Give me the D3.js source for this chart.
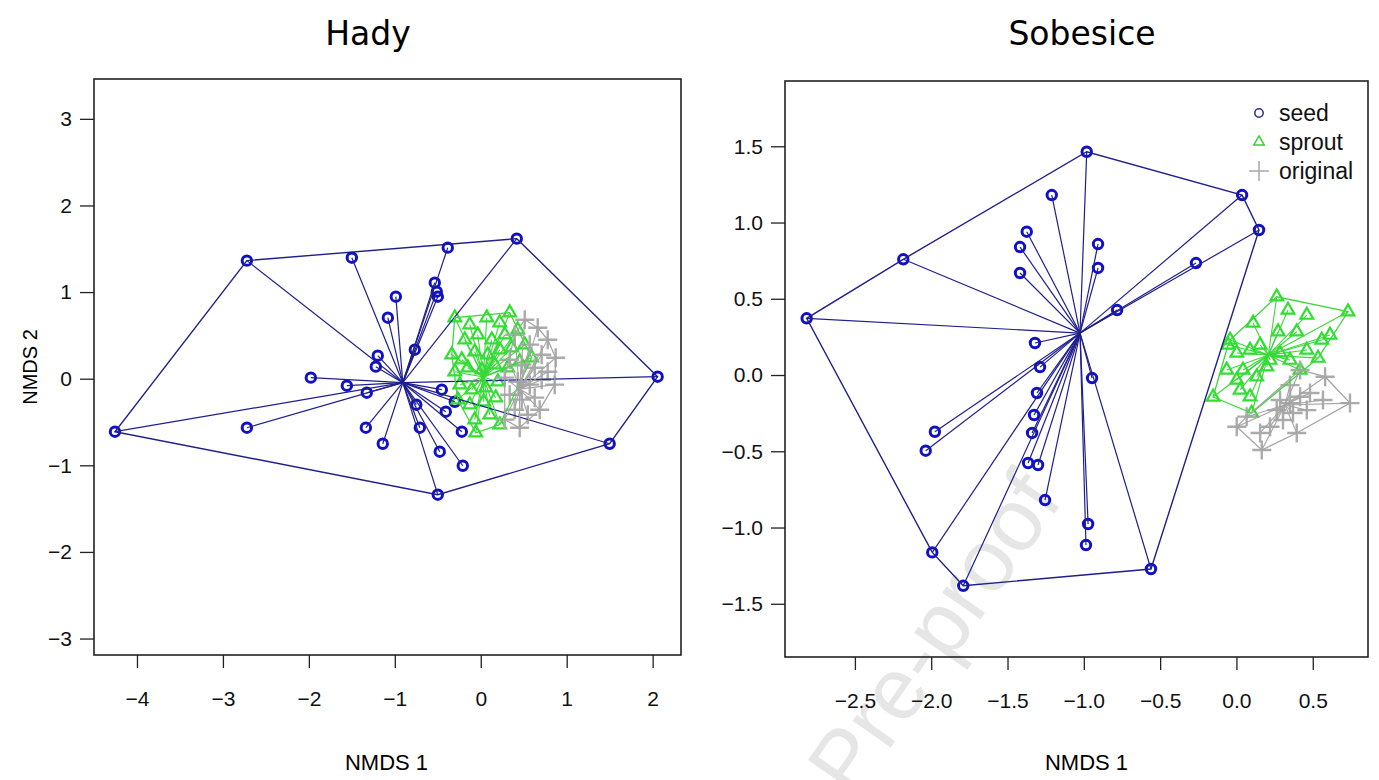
<!DOCTYPE html>
<html>
<head>
<meta charset="utf-8">
<script src="https://cdn.jsdelivr.net/npm/d3@7"></script>
<style>
  body { margin: 0; background: #fff; }
</style>
</head>
<body>
<div id="chart"></div>
<script>
// ---------- data (NMDS scores) ----------
const hadySeed = [
  [-4.256,-0.612],[-2.721,1.363],[0.419,1.617],[2.058,0.023],[1.5,-0.751],[-0.5,-1.339],
  [-1.5,1.397],[-0.384,1.513],[-0.988,0.947],[-1.081,0.704],[-0.535,1.109],[-0.512,1.005],
  [-0.5,0.947],[-0.767,0.335],[-1.198,0.266],[-1.221,0.139],[-1.977,0.012],[-1.558,-0.081],
  [-1.326,-0.162],[-2.721,-0.566],[-1.337,-0.566],[-1.14,-0.751],[-0.709,-0.566],[-0.477,-0.843],
  [-0.407,-0.381],[-0.302,-0.266],[-0.209,-1.005],[-0.453,-0.127],[-0.22,-0.612],[-0.75,-0.3]
];
const hadySprout = [
  [-0.302,0.704],[-0.128,0.624],[0.070,0.704],[0.221,0.647],[0.337,0.762],[-0.186,0.450],
  [-0.035,0.508],[0.128,0.450],[0.279,0.508],[0.430,0.566],[-0.337,0.277],[-0.221,0.219],
  [-0.070,0.312],[0.081,0.277],[0.221,0.335],[0.360,0.358],[0.512,0.393],[-0.302,0.081],
  [-0.151,0.127],[0.012,0.104],[0.163,0.162],[0.314,0.127],[0.453,0.196],[0.593,0.242],
  [-0.244,-0.069],[-0.105,-0.127],[0.058,-0.104],[0.198,-0.035],[-0.267,-0.242],[-0.128,-0.300],
  [0.035,-0.266],[0.174,-0.219],[-0.070,-0.473],[0.105,-0.416],[-0.058,-0.624],[0.221,-0.531]
];
const hadyOriginal = [
  [0.512,0.681],[0.663,0.589],[0.779,0.450],[0.872,0.242],[0.395,0.508],[0.570,0.393],
  [0.709,0.277],[0.337,0.219],[0.477,0.162],[0.628,0.127],[0.779,0.081],[0.279,0.012],
  [0.430,-0.035],[0.570,-0.069],[0.709,-0.012],[0.860,-0.069],[0.337,-0.185],[0.477,-0.242],
  [0.628,-0.219],[0.395,-0.358],[0.547,-0.416],[0.453,-0.566],[0.279,-0.473],[0.686,-0.358]
];
const hadyCentres = { seed: [-0.907,-0.046], sprout: [0.03,0.02], original: [0.45,-0.12] };

const sobSeed = [
  [-2.816,0.372],[-2.183,0.759],[-0.981,1.464],[0.037,1.180],[0.148,0.951],[-0.560,-1.272],
  [-1.790,-1.382],[-1.993,-1.163],
  [-1.210,1.180],[-1.374,0.940],[-1.418,0.839],[-1.418,0.669],[-0.907,0.859],[-0.907,0.702],
  [-0.782,0.426],[-0.265,0.734],[-1.320,0.210],[-1.287,0.052],[-1.307,-0.118],[-1.326,-0.262],
  [-1.339,-0.380],[-1.365,-0.577],[-1.300,-0.590],[-1.254,-0.820],[-0.946,-0.020],[-1.976,-0.372],
  [-2.036,-0.496],[-0.972,-0.977],[-0.986,-1.115]
];
const sobSprout = [
  [0.264,0.513],[0.338,0.426],[0.461,0.393],[0.731,0.415],[0.109,0.341],[0.273,0.284],
  [0.395,0.284],[0.613,0.262],[0.559,0.230],[-0.042,0.230],[0.002,0.144],[0.089,0.164],
  [0.461,0.164],[0.535,0.111],[-0.153,-0.144],[0.043,0.033],[0.133,-0.011],[0.089,-0.142],
  [0.199,0.054],[0.286,0.144],[0.351,0.098],[0.417,0.033],[0.100,-0.249],[0.002,-0.033],
  [-0.064,0.033],[0.155,0.197],[0.220,0.098],[0.024,-0.098],[-0.055,0.197]
];
const sobOriginal = [
  [0.581,-0.011],[0.744,-0.184],[0.567,-0.164],[0.482,-0.118],[0.395,-0.380],[0.166,-0.492],
  [0.002,-0.339],[0.067,-0.273],[0.264,-0.230],[0.351,-0.184],[0.417,-0.142],[0.220,-0.339],
  [0.305,-0.295],[0.155,-0.380],[0.371,-0.249],[0.461,-0.230],[0.286,-0.164],[0.417,0.033],
  [0.351,-0.066]
];
const sobCentres = { seed: [-1.025,0.275], sprout: [0.209,0.131], original: [0.318,-0.197] };

const hadyXTicks = [-4,-3,-2,-1,0,1,2];
const hadyYTicks = [-3,-2,-1,0,1,2,3];
const sobTicks = [-2.5,-2.0,-1.5,-1.0,-0.5,0.0,0.5];
const sobYTicks = [-1.5,-1.0,-0.5,0.0,0.5,1.0,1.5];
const groupNames = ["seed","sprout","original"];

// ---------- styling ----------
const width = 1379, height = 780;
const style = {
  seed:     { point: "#1010c8", line: "#1f1f8c", sym: d3.symbolCircle,    size: 70,  pw: 3.0, lw: 1.2 },
  sprout:   { point: "#2fe02f", line: "#3ad83a", sym: d3.symbolTriangle2, size: 115, pw: 2.2, lw: 1.1 },
  original: { point: "#ababab", line: "#a4a4a4", sym: d3.symbolPlus,      size: 120, pw: 2.4, lw: 1.1 }
};
const tickFont = "'Liberation Sans', Arial, sans-serif";

const svg = d3.select("#chart")
  .append("svg")
  .attr("width", width)
  .attr("height", height)
  .style("display", "block");

// watermark, behind everything
svg.append("text")
  .attr("transform", "translate(1064,500) rotate(-55)")
  .attr("text-anchor", "end")
  .attr("font-family", tickFont)
  .attr("font-size", 88)
  .attr("fill", "#e6e6e6")
  .text("Pre-proof");

function drawPanel(cfg) {
  const x = d3.scaleLinear().domain(cfg.xDomain).range([cfg.left, cfg.right]);
  const y = d3.scaleLinear().domain(cfg.yDomain).range([cfg.bottom, cfg.top]);
  const g = svg.append("g");

  // bottom axis
  g.append("g")
    .attr("transform", `translate(0,${cfg.bottom})`)
    .call(d3.axisBottom(x).tickValues(cfg.xTicks).tickFormat(cfg.fmt)
      .tickSize(13).tickPadding(23).tickSizeOuter(0))
    .call(a => a.select(".domain").remove())
    .attr("font-size", 21).attr("font-family", tickFont)
    .call(a => a.selectAll("line").attr("stroke", "#222").attr("stroke-width", 1.3))
    .call(a => a.selectAll("text").attr("fill", "#111"));

  // left axis
  g.append("g")
    .attr("transform", `translate(${cfg.left},0)`)
    .call(d3.axisLeft(y).tickValues(cfg.yTicks).tickFormat(cfg.fmt)
      .tickSize(14).tickPadding(8).tickSizeOuter(0))
    .call(a => a.select(".domain").remove())
    .attr("font-size", 21).attr("font-family", tickFont)
    .call(a => a.selectAll("line").attr("stroke", "#222").attr("stroke-width", 1.3))
    .call(a => a.selectAll("text").attr("fill", "#111"));

  // frame
  g.append("rect")
    .attr("x", cfg.left).attr("y", cfg.top)
    .attr("width", cfg.right - cfg.left).attr("height", cfg.bottom - cfg.top)
    .attr("fill", "none").attr("stroke", "#222").attr("stroke-width", 1.6);

  // title + axis labels
  g.append("text")
    .attr("x", cfg.titleX).attr("y", 45)
    .attr("text-anchor", "middle")
    .attr("font-family", "'DejaVu Sans', Verdana, sans-serif")
    .attr("font-size", 33)
    .text(cfg.title);

  g.append("text")
    .attr("x", (cfg.left + cfg.right) / 2 + cfg.xLabelShift).attr("y", 770)
    .attr("text-anchor", "middle")
    .attr("font-family", tickFont).attr("font-size", 22)
    .text("NMDS 1");

  if (cfg.yLabel) {
    g.append("text")
      .attr("transform", `translate(37,${(cfg.top + cfg.bottom) / 2}) rotate(-90)`)
      .attr("text-anchor", "middle")
      .attr("font-family", tickFont).attr("font-size", 20)
      .text(cfg.yLabel);
  }

  const plot = g.append("g");

  // points first
  groupNames.forEach(name => {
    const s = style[name];
    plot.append("g").selectAll("path")
      .data(cfg.groups[name])
      .join("path")
      .attr("transform", d => `translate(${x(d[0])},${y(d[1])})`)
      .attr("d", d3.symbol(s.sym, s.size))
      .attr("fill", "none")
      .attr("stroke", s.point)
      .attr("stroke-width", s.pw);
  });

  // spiders and hulls on top
  groupNames.forEach(name => {
    const s = style[name];
    const c = cfg.centres[name];
    plot.append("g").selectAll("line")
      .data(cfg.groups[name])
      .join("line")
      .attr("x1", x(c[0])).attr("y1", y(c[1]))
      .attr("x2", d => x(d[0])).attr("y2", d => y(d[1]))
      .attr("stroke", s.line)
      .attr("stroke-width", s.lw);

    const hull = d3.polygonHull(cfg.groups[name].map(d => [x(d[0]), y(d[1])]));
    plot.append("path")
      .attr("d", "M" + hull.join("L") + "Z")
      .attr("fill", "none")
      .attr("stroke", s.line)
      .attr("stroke-width", s.lw + 0.2);
  });

  return { x, y, g };
}

drawPanel({
  title: "Hady", titleX: 368, yLabel: "NMDS 2", xLabelShift: -1,
  left: 94, right: 681, top: 79, bottom: 655,
  xDomain: [-4.5, 2.33], yDomain: [-3.19, 3.46],
  xTicks: hadyXTicks, yTicks: hadyYTicks, fmt: d3.format("d"),
  groups: { seed: hadySeed, sprout: hadySprout, original: hadyOriginal },
  centres: hadyCentres
});

const right = drawPanel({
  title: "Sobesice", titleX: 1082, yLabel: null, xLabelShift: 10,
  left: 785, right: 1368, top: 81, bottom: 657,
  xDomain: [-2.958, 0.862], yDomain: [-1.849, 1.928],
  xTicks: sobTicks, yTicks: sobYTicks, fmt: d3.format(".1f"),
  groups: { seed: sobSeed, sprout: sobSprout, original: sobOriginal },
  centres: sobCentres
});

// legend
const legend = right.g.append("g").attr("transform", "translate(1259,113)");
const legendStyle = {
  seed:     { c: "#2a2a90", sym: d3.symbolCircle,    size: 55 },
  sprout:   { c: "#3ccc3c", sym: d3.symbolTriangle2, size: 80 },
  original: { c: "#a8a8a8", sym: d3.symbolPlus,      size: 130 }
};
groupNames.forEach((name, i) => {
  const row = legend.append("g").attr("transform", `translate(0,${i * 29})`);
  row.append("path")
    .attr("d", d3.symbol(legendStyle[name].sym, legendStyle[name].size))
    .attr("fill", "none")
    .attr("stroke", legendStyle[name].c)
    .attr("stroke-width", 1.5);
  row.append("text")
    .attr("x", 20).attr("y", 8)
    .attr("font-family", tickFont).attr("font-size", 23)
    .attr("fill", "#111")
    .text(name);
});
</script>
</body>
</html>
